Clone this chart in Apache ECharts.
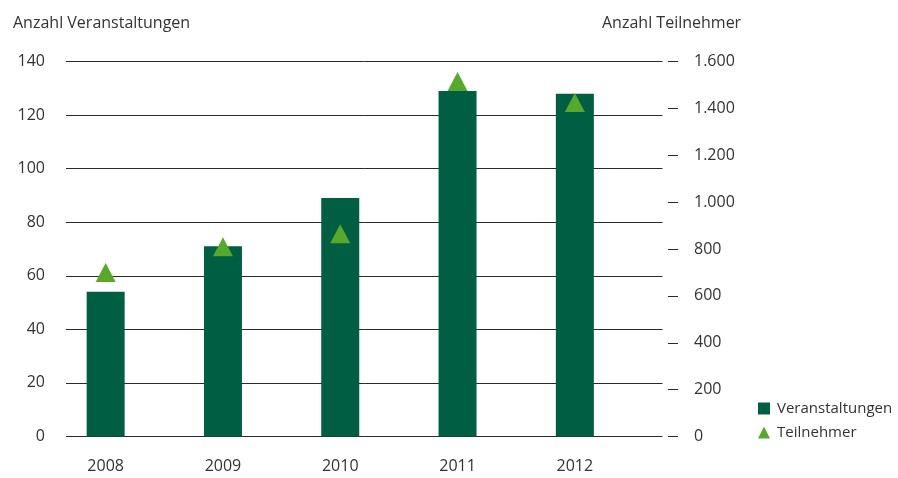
<!DOCTYPE html>
<html lang="de">
<head>
<meta charset="utf-8">
<title>Veranstaltungen und Teilnehmer 2008–2012</title>
<script src="https://cdn.jsdelivr.net/npm/echarts@6/dist/echarts.min.js"></script>
<style>
  html, body { margin: 0; padding: 0; background: #fff; }
  #chart { width: 898px; height: 478px; }
</style>
</head>
<body>
<div id="chart"></div>
<script>
// Jahre (Kategorien)
const years = ['2008', '2009', '2010', '2011', '2012'];
// Anzahl Veranstaltungen (linke Achse)
const veranstaltungen = [54, 71, 89, 129, 128];
// Anzahl Teilnehmer (rechte Achse)
const teilnehmer = [700, 810, 865, 1515, 1425];

// Achsenbereiche
const leftAxis = { min: 0, max: 140, interval: 20 };
const rightAxis = { min: 0, max: 1600, interval: 200 };

const FONT = '"Open Sans", "Noto Sans", sans-serif';
const FS = 16;
const TEXT = '#333333';
const DARK_GREEN = '#005e42';
const LIGHT_GREEN = '#58a92b';

// Tausenderpunkt wie im deutschen Zahlenformat
const fmtDe = v => String(v).replace(/\B(?=(\d{3})+(?!\d))/g, '.');

const chart = echarts.init(document.getElementById('chart'), null, { renderer: 'canvas' });

const gridTop = 61.5, gridBottom = 41.5;

chart.setOption({
  animation: false,
  backgroundColor: '#ffffff',
  textStyle: { fontFamily: FONT, color: TEXT },
  title: [
    { text: 'Anzahl Veranstaltungen', left: 8, top: 10,
      textStyle: { fontFamily: FONT, fontWeight: 'normal', fontSize: FS, color: TEXT } },
    { text: 'Anzahl Teilnehmer', left: 597, top: 10,
      textStyle: { fontFamily: FONT, fontWeight: 'normal', fontSize: FS, color: TEXT } }
  ],
  legend: {
    orient: 'vertical',
    left: 753, top: 396,
    itemWidth: 12, itemHeight: 12,
    itemGap: 9,
    textStyle: { fontFamily: FONT, fontSize: 15, color: TEXT, padding: [0, 0, 0, 2] },
    data: [
      { name: 'Veranstaltungen', icon: 'rect' },
      { name: 'Teilnehmer', icon: 'triangle' }
    ]
  },
  grid: [
    // Raster mit den sichtbaren Achsen
    { left: 66, right: 235.5, top: gridTop, bottom: gridBottom },
    // Raster für Balken und Markierungen
    { left: 47, width: 586.5, top: gridTop, bottom: gridBottom }
  ],
  xAxis: [
    { gridIndex: 0, type: 'category', data: years, show: false },
    { gridIndex: 1, type: 'category', data: years,
      axisLine: { show: false }, axisTick: { show: false },
      axisLabel: { margin: 22, fontSize: FS, color: TEXT, fontFamily: FONT } }
  ],
  yAxis: [
    { gridIndex: 0, type: 'value', position: 'left',
      min: leftAxis.min, max: leftAxis.max, interval: leftAxis.interval,
      axisLine: { show: false }, axisTick: { show: false },
      axisLabel: { margin: 21, fontSize: FS, color: TEXT, fontFamily: FONT },
      splitLine: { show: true, lineStyle: { color: '#2a2a2a', width: 1 } } },
    { gridIndex: 0, type: 'value', position: 'right', offset: 5.5,
      min: rightAxis.min, max: rightAxis.max, interval: rightAxis.interval,
      axisLine: { show: false },
      axisTick: { show: true, length: 10, lineStyle: { color: '#2a2a2a', width: 1 } },
      axisLabel: { margin: 26, fontSize: FS, color: TEXT, fontFamily: FONT, formatter: fmtDe },
      splitLine: { show: false } },
    { gridIndex: 1, type: 'value', show: false,
      min: leftAxis.min, max: leftAxis.max, interval: leftAxis.interval, splitLine: { show: false } },
    { gridIndex: 1, type: 'value', show: false,
      min: rightAxis.min, max: rightAxis.max, interval: rightAxis.interval, splitLine: { show: false } }
  ],
  series: [
    { name: 'Veranstaltungen', type: 'bar', xAxisIndex: 1, yAxisIndex: 2,
      data: veranstaltungen, barWidth: 38,
      itemStyle: { color: DARK_GREEN }, z: 2 },
    { name: 'Teilnehmer', type: 'scatter', xAxisIndex: 1, yAxisIndex: 3,
      data: teilnehmer, symbol: 'triangle', symbolSize: [20, 19],
      itemStyle: { color: LIGHT_GREEN, opacity: 1 }, z: 3 }
  ]
});
</script>
</body>
</html>
